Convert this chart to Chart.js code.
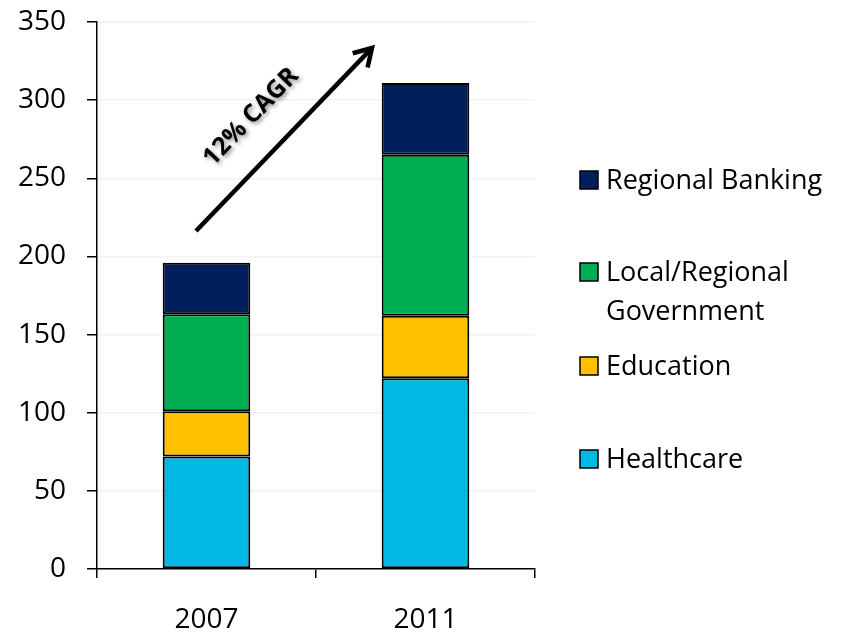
<!DOCTYPE html>
<html>
<head>
<meta charset="utf-8">
<script src="https://cdn.jsdelivr.net/npm/chart.js@4.4.1/dist/chart.umd.min.js"></script>
<style>
  html, body { margin: 0; padding: 0; background: #fff; }
  #wrap { width: 844px; height: 632px; }
</style>
</head>
<body>
<div id="wrap"><canvas id="chart" width="844" height="632"></canvas></div>
<script>
const years = ['2007', '2011'];
const healthcare = [72, 122];
const education = [29, 40];
const localGov = [62, 103];
const regionalBanking = [33, 46];
const seriesNames = ['Healthcare', 'Education', 'Local/Regional Government', 'Regional Banking'];
const yTicks = [0, 50, 100, 150, 200, 250, 300, 350];
const growthLabel = '12% CAGR';

const FONT = "'Open Sans', sans-serif";

// legend drawn by hand on the right, top entry first
const sideLegend = {
    id: 'sideLegend',
    afterDraw(chart) {
        const ctx = chart.ctx;
        const items = [
            { ds: 3, lines: ['Regional Banking'], y: 180 },
            { ds: 2, lines: ['Local/Regional', 'Government'], y: 272 },
            { ds: 1, lines: ['Education'], y: 366 },
            { ds: 0, lines: ['Healthcare'], y: 459 }
        ];
        ctx.save();
        ctx.font = '27px ' + FONT;
        ctx.textBaseline = 'middle';
        items.forEach(it => {
            const ds = chart.data.datasets[it.ds];
            ctx.fillStyle = ds.backgroundColor;
            ctx.fillRect(580, it.y - 9, 18, 18);
            ctx.lineWidth = 1.5;
            ctx.strokeStyle = '#000';
            ctx.strokeRect(580, it.y - 9, 18, 18);
            ctx.fillStyle = '#000';
            it.lines.forEach((ln, i) => {
                ctx.fillText(ln, 606, it.y + 1 + i * 39);
            });
        });
        ctx.restore();
    }
};

// growth arrow with rotated label
const growthArrow = {
    id: 'growthArrow',
    afterDraw(chart) {
        const ctx = chart.ctx;
        const x0 = 196, y0 = 231, x1 = 372, y1 = 48;
        const ang = Math.atan2(y1 - y0, x1 - x0);
        ctx.save();
        ctx.strokeStyle = '#000';
        ctx.lineWidth = 4.5;
        ctx.beginPath();
        ctx.moveTo(x0, y0);
        ctx.lineTo(x1 - 3 * Math.cos(ang), y1 - 3 * Math.sin(ang));
        ctx.stroke();
        // open arrow head
        const hl = 20;
        ctx.beginPath();
        ctx.moveTo(x1 + hl * Math.cos(ang + 2.6), y1 + hl * Math.sin(ang + 2.6));
        ctx.lineTo(x1, y1);
        ctx.lineTo(x1 + hl * Math.cos(ang - 2.6), y1 + hl * Math.sin(ang - 2.6));
        ctx.stroke();

        ctx.translate(251, 117);
        ctx.rotate(ang);
        ctx.font = 'bold 25px ' + FONT;
        ctx.textAlign = 'center';
        ctx.textBaseline = 'middle';
        ctx.shadowColor = 'rgba(0,0,0,0.45)';
        ctx.shadowBlur = 4;
        ctx.shadowOffsetX = 2;
        ctx.shadowOffsetY = 2;
        ctx.fillStyle = '#000';
        ctx.fillText(growthLabel, 0, 0);
        ctx.restore();
    }
};

const common = { borderColor: '#000', borderWidth: 2, borderSkipped: false, barPercentage: 0.8, categoryPercentage: 0.5 };

new Chart(document.getElementById('chart'), {
    type: 'bar',
    data: {
        labels: years,
        datasets: [
            Object.assign({ label: seriesNames[0], data: healthcare, backgroundColor: '#00B9E2' }, common),
            Object.assign({ label: seriesNames[1], data: education, backgroundColor: '#FFC000' }, common),
            Object.assign({ label: seriesNames[2], data: localGov, backgroundColor: '#00AD50' }, common),
            Object.assign({ label: seriesNames[3], data: regionalBanking, backgroundColor: '#001F5C' }, common)
        ]
    },
    options: {
        responsive: false,
        animation: false,
        layout: { padding: { top: 22, right: 309, left: 0, bottom: 0 } },
        plugins: { legend: { display: false }, tooltip: { enabled: false } },
        scales: {
            x: {
                stacked: true,
                grid: { offset: true, drawOnChartArea: false, drawTicks: true, tickLength: 9, color: '#000', lineWidth: 1.5 },
                border: { display: true, color: '#000', width: 1.5 },
                ticks: { color: '#000', font: { family: FONT, size: 28 }, padding: 25 },
                afterFit(scale) {
                    scale.height = 63;
                    scale.paddingLeft = 0;
                    scale.paddingRight = 0;
                }
            },
            y: {
                stacked: true,
                min: 0,
                max: 350,
                afterBuildTicks(scale) { scale.ticks = yTicks.map(v => ({ value: v })); },
                grid: { color: '#f2f2f2', lineWidth: 1.5, drawTicks: true, tickLength: 10, tickColor: '#000' },
                border: { display: true, color: '#000', width: 1.5 },
                ticks: { color: '#000', font: { family: FONT, size: 28 }, padding: 21 },
                afterFit(scale) {
                    scale.width = 97;
                    scale.paddingTop = 0;
                    scale.paddingBottom = 0;
                }
            }
        }
    },
    plugins: [sideLegend, growthArrow]
});
</script>
</body>
</html>
